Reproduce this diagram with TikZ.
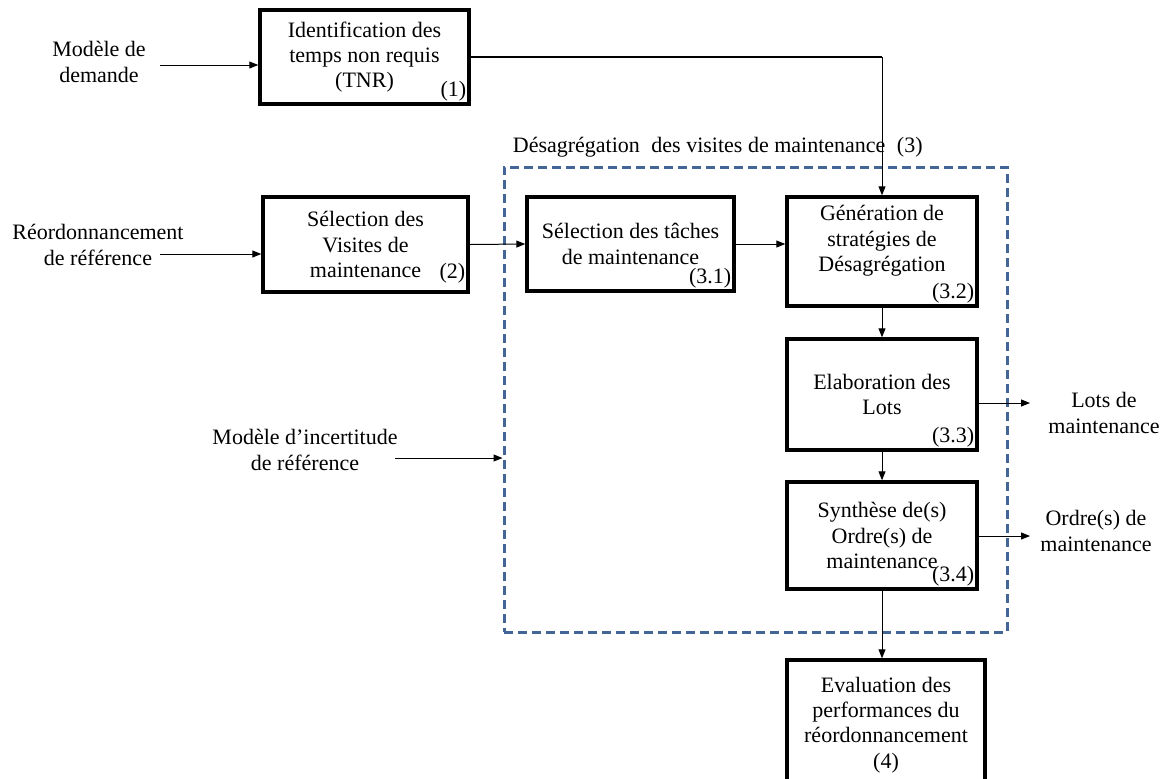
\documentclass[tikz,border=0pt]{standalone}
\usepackage{fontspec}
\setmainfont{Liberation Serif}
\usetikzlibrary{arrows.meta,positioning}
\definecolor{dashblue}{RGB}{68,102,150}

\begin{document}
\begin{tikzpicture}
[
	x=0.5pt,y=-0.5pt,
	font=\fontsize{11}{12.6}\selectfont,
	stepbox/.style={draw,line width=1.7pt,align=center,inner sep=2pt},
	numlbl/.style={anchor=south east,inner sep=2pt},
	sidelbl/.style={align=center,inner sep=0pt},
	flow/.style={-{Triangle[length=4.5pt,width=3.5pt]},line width=0.5pt},
	dashedbox/.style={draw=dashblue,line width=1.5pt,dash pattern=on 4.5pt off 2.5pt,inner sep=0pt}
]
	\useasboundingbox (0,0) rectangle (1166,778);

	% main boxes
	\node[stepbox,minimum width=104.5pt,minimum height=47pt] (tnr) at (364.5,57)
		{Identification des\\temps non requis\\(TNR)};
	\node[stepbox,minimum width=102.5pt,minimum height=47.5pt] (selvis) at (365.5,244.5)
		{Sélection des\\Visites de\\maintenance\hspace{18pt}};
	\node[stepbox,minimum width=103.5pt,minimum height=47pt] (seltache) at (630.5,244)
		{Sélection des tâches\\de maintenance};
	\node[stepbox,minimum width=95pt,minimum height=54.5pt] (generation) at (882,251.5)
		{Génération de\\stratégies de\\Désagrégation\\[0.5pt]};
	\node[stepbox,minimum width=95pt,minimum height=55.5pt] (lots) at (882,394.5)
		{Elaboration des\\Lots};
	\node[stepbox,minimum width=95pt,minimum height=53.5pt] (synthese) at (882,535.5)
		{Synthèse de(s)\\Ordre(s) de\\maintenance};
	\node[stepbox,minimum width=99pt,minimum height=65pt] (evaluation) at (886,725)
		{Evaluation des\\performances du\\réordonnancement\\(4)};

	% numbers
	\node[numlbl] (n1) at (tnr.south east) {(1)};
	\node[numlbl] (n2) at ([yshift=3pt]selvis.south east) {(2)};
	\node[numlbl] (n31) at (seltache.south east) {(3.1)};
	\node[numlbl] (n32) at (generation.south east) {(3.2)};
	\node[numlbl] (n33) at (lots.south east) {(3.3)};
	\node[numlbl] (n34) at (synthese.south east) {(3.4)};

	% dashed frame
	\node[dashedbox,minimum width=251.5pt,minimum height=232.5pt] (desag) at (755.5,399.5) {};
	\node[anchor=south west,inner sep=1pt] (desagtitle) at ([xshift=4pt,yshift=3pt]desag.north west)
		{Désagrégation\hspace{3pt} des visites de maintenance\hspace{3pt} (3)};

	% inputs and outputs
	\node[sidelbl] (demande) at (99,62) {Modèle de\\demande};
	\node[sidelbl] (reord) at (98,245) {Réordonnancement\\de référence};
	\node[sidelbl] (incert) at (305,450) {Modèle d’incertitude\\de référence};
	\node[sidelbl,anchor=west] (lotsout) at (1048,413) {Lots de\\maintenance};
	\node[sidelbl,anchor=west] (ordresout) at (1040,531) {Ordre(s) de\\maintenance};

	\coordinate (demandeend) at (160,65);
	\coordinate (reordend) at (160,254);
	\coordinate (incertend) at (395,458);
	\coordinate (lotsend) at (1030,403);
	\coordinate (ordresend) at (1030,536);

	% connectors
	\draw[flow] (demandeend) -- (tnr.west |- demandeend);
	\draw[flow] (reordend) -- (selvis.west |- reordend);
	\draw[flow] (incertend) -- (desag.west |- incertend);
	\draw[flow] (selvis.east) -- (seltache.west);
	\draw[flow] (seltache.east) -- (seltache.east -| generation.west);
	\draw[line width=1pt] (tnr.east) -- (tnr.east -| generation.north);
	\draw[flow] (tnr.east -| generation.north) -- (generation.north);
	\draw[flow] (generation.south) -- (lots.north);
	\draw[flow] (lots.south) -- (synthese.north);
	\draw[flow] (synthese.south) -- (synthese.south |- evaluation.north);
	\draw[flow] (lots.east |- lotsend) -- (lotsend);
	\draw[flow] (synthese.east |- ordresend) -- (ordresend);

\end{tikzpicture}
\end{document}
